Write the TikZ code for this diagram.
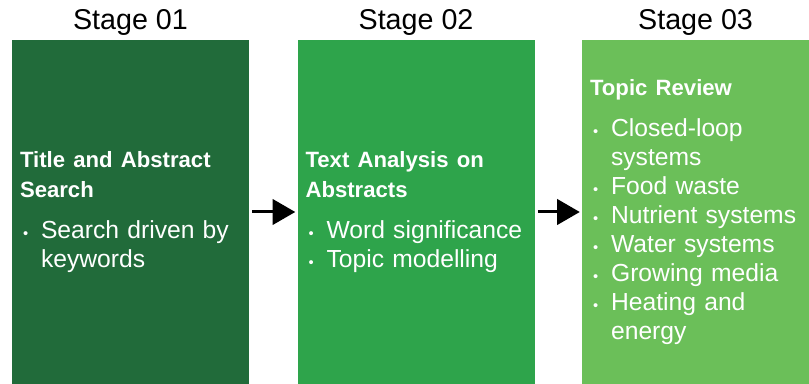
\documentclass[tikz,border=0pt]{standalone}
\usepackage{fontspec}
\setmainfont{Liberation Sans}
\usetikzlibrary{arrows.meta,positioning}

\definecolor{stagedark}{RGB}{33,107,58}
\definecolor{stagemid}{RGB}{46,164,75}
\definecolor{stagelight}{RGB}{107,191,89}

\newcommand{\stagehead}[1]{{\fontsize{16.6pt}{22.5pt}\selectfont\bfseries #1\par}\vspace{9pt}}
\newcommand{\stageitem}[1]{\par\hangindent=15.75pt\hangafter=1\noindent
  \hbox to 15.75pt{\hspace{2.25pt}{\fontsize{11pt}{11pt}\selectfont\textbullet}\hfil}#1\par}

\begin{document}
\begin{tikzpicture}[x=0.75pt,y=-0.75pt,
                    >={Triangle[length=17pt,width=19pt]}]
  \tikzset{stage/.style={draw=none,text=white,align=left,inner xsep=6pt,inner ysep=0pt,
                         minimum height=258pt,text width=165.75pt,
                         font=\fontsize{18.5pt}{21.75pt}\selectfont},
           title/.style={inner sep=0pt,font=\fontsize{21.5pt}{24pt}\selectfont},
           flow/.style={->,line width=2.25pt,shorten <=2.25pt,shorten >=1.5pt}}

  \useasboundingbox (0,0) rectangle (809,384);

  \node[stage,fill=stagedark]  (S1) at (130.5,212) {\stagehead{Title and Abstract\newline Search}
    \stageitem{Search driven by\newline keywords}};
  \node[stage,fill=stagemid]   (S2) [right=36pt of S1] {\stagehead{Text Analysis on\newline Abstracts}
    \stageitem{Word significance}
    \stageitem{Topic modelling}};
  \node[stage,fill=stagelight,text width=158.25pt] (S3) [right=35.25pt of S2] {\stagehead{Topic Review}
    \stageitem{Closed-loop\newline systems}
    \stageitem{Food waste}
    \stageitem{Nutrient systems}
    \stageitem{Water systems}
    \stageitem{Growing media}
    \stageitem{Heating and\newline energy}};

  \node[title] (L1) [above=3pt of S1] {Stage 01};
  \node[title] (L2) [above=3pt of S2] {Stage 02};
  \node[title] (L3) [above=3pt of S3] {Stage 03};

  \draw[flow] (S1.east) -- (S2.west);
  \draw[flow] (S2.east) -- (S3.west);
\end{tikzpicture}
\end{document}
